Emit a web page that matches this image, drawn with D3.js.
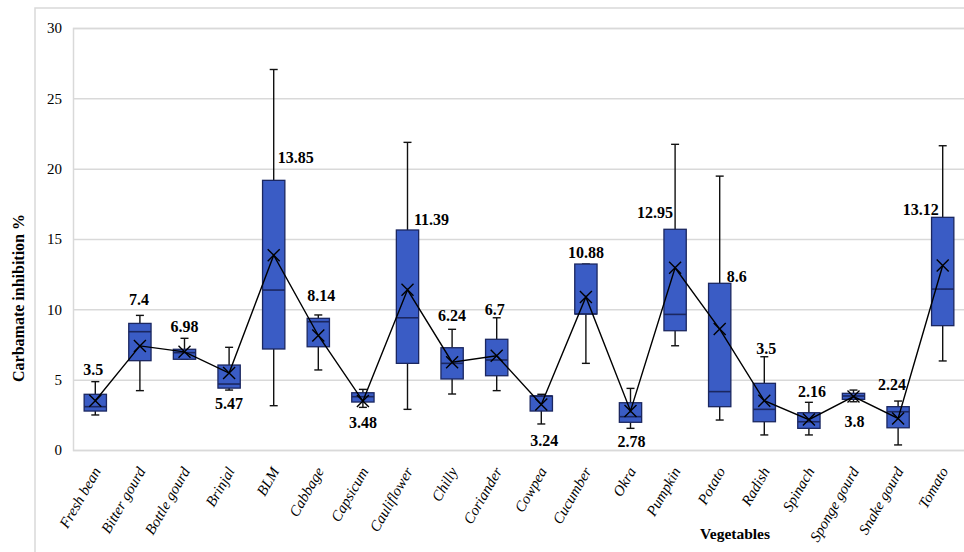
<!DOCTYPE html>
<html>
<head>
<meta charset="utf-8">
<script src="https://cdn.jsdelivr.net/npm/d3@7"></script>
<style>
  html, body { margin: 0; padding: 0; background: #fff; }
  svg { display: block; font-family: "Liberation Serif", "Times New Roman", serif; }
</style>
</head>
<body>
<svg id="chart" width="964" height="552"></svg>
<script>
// Carbamate inhibition (%) per vegetable: five-number summary plus mean
const vegetables = ["Fresh bean", "Bitter gourd", "Bottle gourd", "Brinjal", "BLM", "Cabbage",
  "Capsicum", "Cauliflower", "Chilly", "Coriander", "Cowpea", "Cucumber", "Okra", "Pumpkin",
  "Potato", "Radish", "Spinach", "Sponge gourd", "Snake gourd", "Tomato"];
const whiskerLow  = [2.49, 4.22, 6.45, 4.26, 3.15, 5.69, 3.03, 2.89, 3.98, 4.22, 1.85, 6.16, 1.54, 7.41, 2.13, 1.07, 1.07, 3.43, 0.36, 6.33];
const quartile1   = [2.77, 6.35, 6.45, 4.40, 7.18, 7.34, 3.41, 6.16, 5.05, 5.28, 2.77, 9.67, 1.97, 8.48, 3.08, 2.01, 1.54, 3.60, 1.58, 8.84];
const medians     = [3.08, 8.41, 6.92, 4.69, 11.37, 9.12, 3.79, 9.40, 6.16, 6.40, 3.84, 9.67, 2.37, 9.64, 4.15, 2.89, 2.01, 3.84, 2.72, 11.44];
const quartile3   = [3.96, 9.00, 7.16, 6.04, 19.17, 9.36, 4.07, 15.64, 7.27, 7.87, 3.84, 13.22, 3.36, 15.69, 11.85, 4.74, 2.65, 4.03, 3.08, 16.54];
const whiskerHigh = [4.86, 9.57, 7.94, 7.30, 27.05, 9.60, 4.31, 21.87, 8.58, 9.40, 3.96, 13.22, 4.38, 21.73, 19.47, 6.63, 3.39, 4.26, 3.48, 21.63];
const means       = [3.5, 7.4, 6.98, 5.47, 13.85, 8.14, 3.48, 11.39, 6.24, 6.7, 3.24, 10.88, 2.78, 12.95, 8.6, 3.5, 2.16, 3.8, 2.24, 13.12];
const yTicks      = [0, 5, 10, 15, 20, 25, 30];

// Pixel offsets of each mean label from its "X" marker
const labelShift = [[-2, -26], [-1, -41], [0, -20], [0, 36], [22, -92], [3, -34], [0, 27], [24, -65],
  [0, -41], [-2, -41], [3, 42], [0, -39], [1, 36], [-20, -50], [17, -47], [2, -47], [3, -23],
  [1, 30], [-6, -28], [-22, -50]];

const rows = vegetables.map((name, i) => ({
  name, lo: whiskerLow[i], q1: quartile1[i], med: medians[i], q3: quartile3[i],
  hi: whiskerHigh[i], mean: means[i], shift: labelShift[i]
}));

const svg = d3.select("#chart");
const W = 964, H = 552;
const plot = { left: 73, right: 965, top: 28, bottom: 450 };
const serif = "Liberation Serif, Times New Roman, serif";

svg.append("rect").attr("width", W).attr("height", H).attr("fill", "#fff");

// outer chart frame
svg.append("path")
  .attr("d", `M35,${H} L35,8 L${W},8`)
  .attr("fill", "none").attr("stroke", "#d9d9d9").attr("stroke-width", 1.5);

const x = d3.scaleBand().domain(vegetables).range([plot.left, plot.right]).padding(0);
const y = d3.scaleLinear().domain([0, 30]).range([plot.bottom, plot.top]);

// horizontal gridlines + y tick labels
const yAxis = d3.axisLeft(y).tickValues(yTicks).tickSize(-(plot.right - plot.left)).tickPadding(11);
const gy = svg.append("g").attr("transform", `translate(${plot.left},0)`).call(yAxis)
  .attr("font-family", serif);
gy.select(".domain").attr("stroke", "#d9d9d9").attr("stroke-width", 1.5);
gy.selectAll(".tick line").attr("stroke", "#d9d9d9").attr("stroke-width", 1.5);
gy.selectAll(".tick text").attr("fill", "#000").attr("font-size", 15);

// category labels
const xAxis = d3.axisBottom(x).tickSize(0).tickPadding(0);
const gx = svg.append("g").attr("transform", `translate(0,${plot.bottom})`).call(xAxis)
  .attr("font-family", serif);
gx.select(".domain").remove();
gx.selectAll(".tick text")
  .attr("fill", "#000").attr("font-size", 15).attr("font-style", "italic")
  .attr("text-anchor", "end").attr("dy", 0)
  .attr("transform", "translate(6,21) rotate(-60)");

const bw = x.bandwidth() * 0.5;
const cap = 8;
const boxColor = "#3a5cc5";
const edgeColor = "#1b2760";

const g = svg.append("g");
const box = g.selectAll("g.box").data(rows).join("g").attr("class", "box")
  .attr("transform", d => `translate(${x(d.name) + x.bandwidth() / 2},0)`);

// whiskers
box.append("line").attr("x1", 0).attr("x2", 0)
  .attr("y1", d => y(d.hi)).attr("y2", d => y(d.q3))
  .attr("stroke", "#111").attr("stroke-width", 1.4);
box.append("line").attr("x1", 0).attr("x2", 0)
  .attr("y1", d => y(d.q1)).attr("y2", d => y(d.lo))
  .attr("stroke", "#111").attr("stroke-width", 1.4);
box.append("line").attr("x1", -cap / 2).attr("x2", cap / 2)
  .attr("y1", d => y(d.hi)).attr("y2", d => y(d.hi))
  .attr("stroke", "#111").attr("stroke-width", 1.4);
box.append("line").attr("x1", -cap / 2).attr("x2", cap / 2)
  .attr("y1", d => y(d.lo)).attr("y2", d => y(d.lo))
  .attr("stroke", "#111").attr("stroke-width", 1.4);

// interquartile boxes
box.append("rect")
  .attr("x", -bw / 2).attr("width", bw)
  .attr("y", d => y(d.q3)).attr("height", d => Math.max(0.5, y(d.q1) - y(d.q3)))
  .attr("fill", boxColor).attr("stroke", edgeColor).attr("stroke-width", 1.3);

// medians
box.append("line").attr("x1", -bw / 2).attr("x2", bw / 2)
  .attr("y1", d => y(d.med)).attr("y2", d => y(d.med))
  .attr("stroke", edgeColor).attr("stroke-width", 1.6);

// line through the means
const meanLine = d3.line()
  .x(d => x(d.name) + x.bandwidth() / 2)
  .y(d => y(d.mean));
g.append("path").datum(rows).attr("d", meanLine)
  .attr("fill", "none").attr("stroke", "#000").attr("stroke-width", 1.4);

// mean markers
const m = 6;
box.append("path")
  .attr("d", d => `M${-m},${y(d.mean) - m}L${m},${y(d.mean) + m}M${-m},${y(d.mean) + m}L${m},${y(d.mean) - m}`)
  .attr("stroke", "#000").attr("stroke-width", 1.4).attr("fill", "none");

// mean value labels
box.append("text")
  .attr("x", d => d.shift[0])
  .attr("y", d => y(d.mean) + d.shift[1])
  .attr("text-anchor", "middle").attr("font-family", serif)
  .attr("font-size", 16).attr("font-weight", "bold").attr("fill", "#000")
  .text(d => String(d.mean));

// axis titles
svg.append("text")
  .attr("transform", "translate(24,298) rotate(-90)").attr("font-family", serif)
  .attr("text-anchor", "middle").attr("font-size", 16).attr("font-weight", "bold")
  .text("Carbamate inhibition %");
svg.append("text")
  .attr("x", 735).attr("y", 539).attr("font-family", serif)
  .attr("text-anchor", "middle").attr("font-size", 15.5).attr("font-weight", "bold")
  .text("Vegetables");
</script>
</body>
</html>
